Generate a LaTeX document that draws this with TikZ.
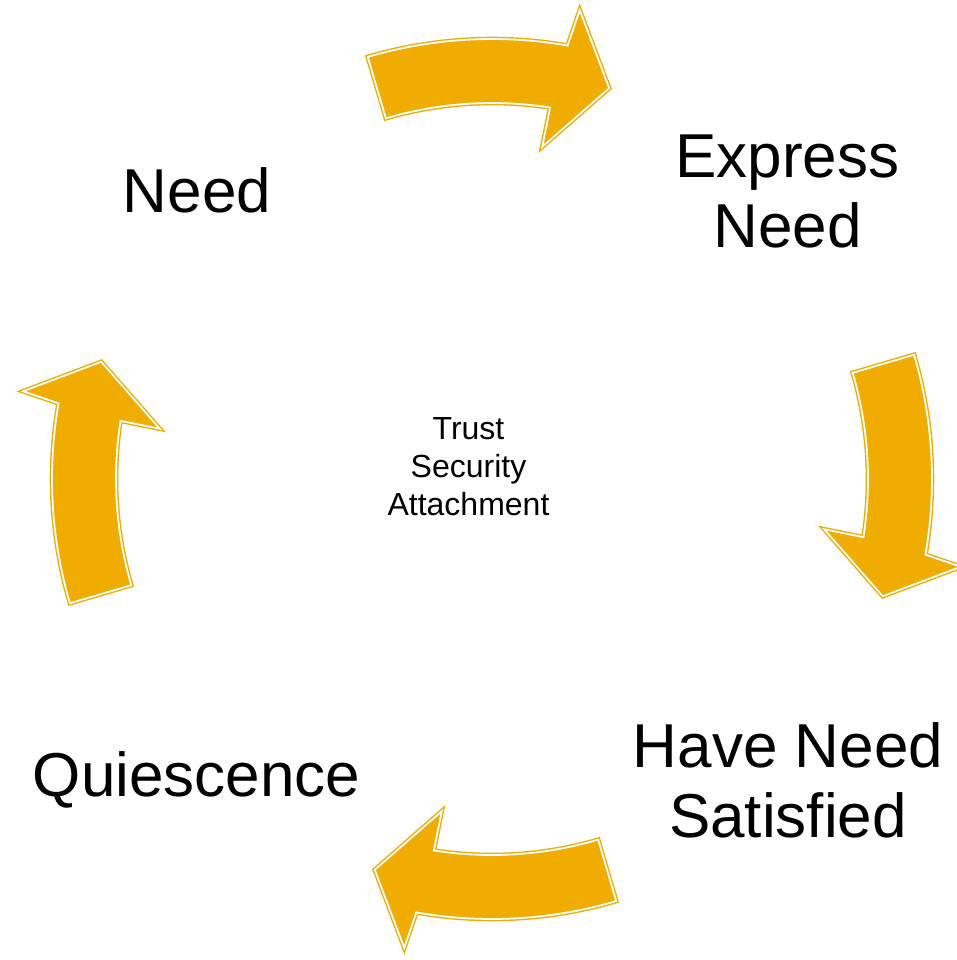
\documentclass[tikz,border=0pt]{standalone}
\usepackage{fontspec}
\setmainfont{Liberation Sans}
\usetikzlibrary{positioning}
\definecolor{cyclegold}{RGB}{240,172,0}
\tikzstyle{cyclearrow}=[fill=cyclegold, draw=cyclegold, double=white, line width=0.7pt, double distance=0.9pt, line join=miter]
\tikzstyle{bigtext}=[align=center, inner sep=0pt, font=\fontsize{31}{35}\selectfont]
\tikzstyle{smalltext}=[align=center, inner sep=0pt, font=\fontsize{16}{19}\selectfont]

\begin{document}
\begin{tikzpicture}[x=0.5pt, y=0.5pt]
\useasboundingbox (-492,-481) rectangle (465,479);
\coordinate (C) at (0,0);
% four curved block arrows round the cycle
\foreach \rot in {0,-90,-180,-270}
 \draw[cyclearrow, rotate=\rot] (106.4:440) arc[start angle=106.4, end angle=80.1, radius=440]
   -- (79.4:477) -- (73.3:408) -- (81.4:336) -- (81.1:376)
   arc[start angle=81.1, end angle=106.4, radius=376] -- cycle;
\node (NEED) [bigtext] at (-295,289) {Need};
\node (EXPR) [bigtext] at (295.5,287.5) {Express\\Need};
\node (HAVE) [bigtext] at (296,-301.5) {Have Need\\Satisfied};
\node (QUIE) [bigtext] at (-295.5,-301) {Quiescence};
\node (TRUST) [smalltext] at (-23.5,12.5) {Trust\\Security\\Attachment};
\end{tikzpicture}
\end{document}
